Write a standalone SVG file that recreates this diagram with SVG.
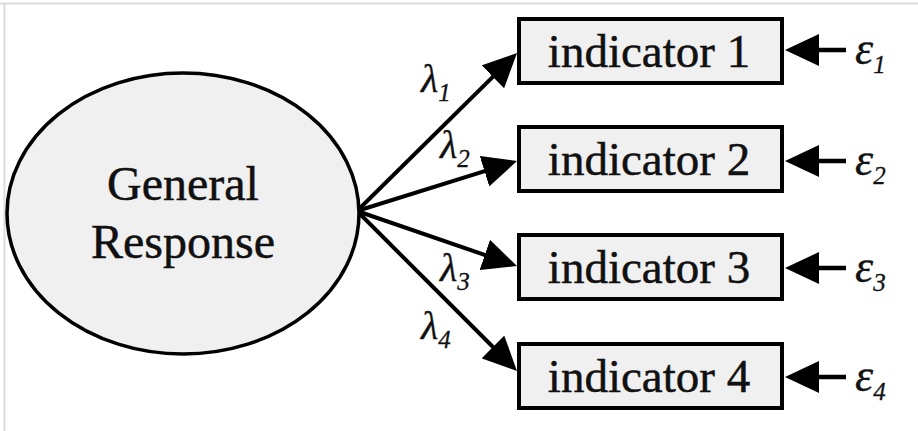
<svg xmlns="http://www.w3.org/2000/svg" width="918" height="431" viewBox="0 0 918 431">
<style>
.bg{fill:#ffffff}
.frame{stroke:#dcdcdc;stroke-width:2;fill:none}
.latent{fill:#f0f0f0;stroke:#000;stroke-width:3.5}
.obs{fill:#f0f0f0;stroke:#000;stroke-width:4}
text{font-family:'Times New Roman','Liberation Serif',Times,serif;fill:#111;stroke:#111;stroke-width:0.5}
.lbl{text-anchor:middle}
.big{font-size:48px}
.ind{font-size:47px}
.greek{font-style:italic;font-size:40px;stroke-width:0.3}
.eps{font-size:46px}
.sub{font-size:25px}
.conn{stroke:#000;stroke-width:4;fill:none;marker-end:url(#ah)}
.err{stroke:#000;stroke-width:4.5;fill:none;marker-end:url(#ah)}
</style>
<defs>
<marker id="ah" markerUnits="userSpaceOnUse" markerWidth="34" markerHeight="32" viewBox="0 0 34 32" refX="22" refY="16" orient="auto">
<path d="M0,0 L34,16 L0,32 z" fill="#000"/>
</marker>
</defs>
<rect class="bg" x="0" y="0" width="918" height="431"/>
<line class="frame" x1="0" y1="3.5" x2="918" y2="3.5"/>
<line class="frame" x1="4.5" y1="3" x2="4.5" y2="431"/>

<g id="connectors">
<line class="conn" x1="357" y1="211" x2="508.5" y2="61.4"/>
<line class="conn" x1="357" y1="211" x2="505.5" y2="164.6"/>
<line class="conn" x1="357" y1="211" x2="505.6" y2="262.1"/>
<line class="conn" x1="357" y1="211" x2="508.5" y2="362.5"/>
<line class="err" x1="846" y1="50" x2="797" y2="50"/>
<line class="err" x1="846" y1="161" x2="797" y2="161"/>
<line class="err" x1="846" y1="268" x2="797" y2="268"/>
<line class="err" x1="846" y1="377" x2="797" y2="377"/>
</g>

<g id="general-response">
<ellipse class="latent" cx="183" cy="213.5" rx="176" ry="140.5"/>
<text class="lbl big" x="183" y="200">General</text>
<text class="lbl big" x="183" y="258">Response</text>
</g>

<g id="indicator1">
<rect class="obs" x="519" y="19" width="263" height="64"/>
<text class="lbl ind" x="649" y="67">indicator 1</text>
</g>
<g id="indicator2">
<rect class="obs" x="519" y="127" width="263" height="64"/>
<text class="lbl ind" x="649" y="175">indicator 2</text>
</g>
<g id="indicator3">
<rect class="obs" x="519" y="235" width="263" height="64"/>
<text class="lbl ind" x="649" y="283">indicator 3</text>
</g>
<g id="indicator4">
<rect class="obs" x="519" y="344" width="263" height="64"/>
<text class="lbl ind" x="649" y="392">indicator 4</text>
</g>

<g id="loading-labels">
<text class="greek" x="421" y="92">λ<tspan class="sub" dy="9">1</tspan></text>
<text class="greek" x="440" y="158">λ<tspan class="sub" dy="9">2</tspan></text>
<text class="greek" x="440" y="281">λ<tspan class="sub" dy="9">3</tspan></text>
<text class="greek" x="421" y="339">λ<tspan class="sub" dy="9">4</tspan></text>
</g>

<g id="error-e1"><text class="greek eps" x="855" y="64">ε<tspan class="sub" dy="9">1</tspan></text></g>
<g id="error-e2"><text class="greek eps" x="855" y="175">ε<tspan class="sub" dy="9">2</tspan></text></g>
<g id="error-e3"><text class="greek eps" x="855" y="282">ε<tspan class="sub" dy="9">3</tspan></text></g>
<g id="error-e4"><text class="greek eps" x="855" y="391">ε<tspan class="sub" dy="9">4</tspan></text></g>
</svg>
